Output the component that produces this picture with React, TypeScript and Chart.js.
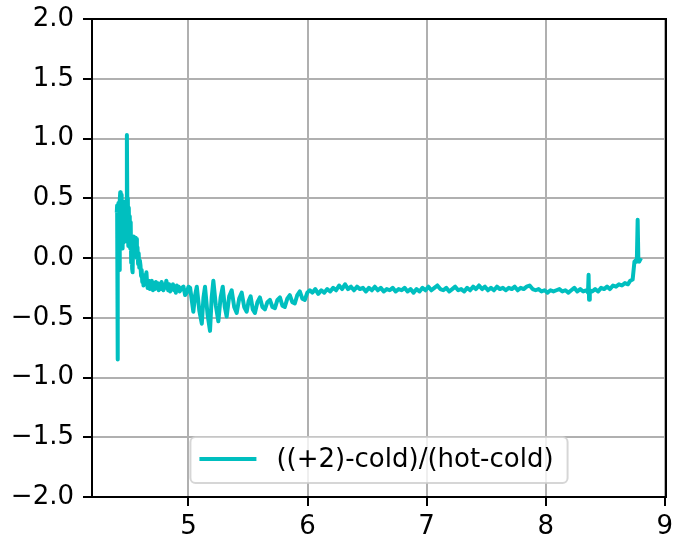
import React, { useEffect, useRef } from "react";
import { Chart, registerables } from "chart.js";

Chart.register(...registerables);

const SERIES_LABEL = "((+2)-cold)/(hot-cold)";
const LINE_COLOR = "#00bfbf";
const X_MIN = 4.19;
const X_MAX = 9.01;
const Y_MIN = -2;
const Y_MAX = 2;
const xTicks = [5, 6, 7, 8, 9];
const yTicks = [-2, -1.5, -1, -0.5, 0, 0.5, 1, 1.5, 2];

// spiky start
const xSpike = [4.398, 4.401, 4.404, 4.408, 4.412, 4.416, 4.42, 4.423, 4.427, 4.431, 4.435, 4.439, 4.443, 4.447, 4.451, 4.455, 4.459, 4.463, 4.467, 4.471, 4.475, 4.479, 4.483, 4.487, 4.491, 4.495, 4.499, 4.503, 4.507, 4.511, 4.515, 4.519, 4.523, 4.527, 4.531, 4.535, 4.539, 4.543, 4.547, 4.552, 4.557, 4.562, 4.567, 4.572, 4.577, 4.582, 4.587, 4.592, 4.597, 4.602, 4.607, 4.612, 4.617, 4.622, 4.627, 4.632, 4.637, 4.642, 4.647, 4.652, 4.657, 4.662, 4.667, 4.672, 4.677, 4.682, 4.687, 4.692, 4.697];
const ySpike = [0.38, 0.44, -0.85, 0.3, 0.46, 0.12, -0.1, 0.48, 0.55, 0.2, 0.53, 0.14, 0.42, 0.08, 0.36, 0.13, 0.47, 0.22, 0.4, 0.14, 0.34, 0.2, 1.03, 0.38, 0.5, 0.1, 0.42, 0.15, 0.35, 0.08, 0.3, -0.04, 0.14, -0.09, -0.12, 0.1, 0.18, 0.04, 0.16, 0.17, 0.04, 0.16, 0.0, 0.09, -0.05, 0.04, -0.08, -0.02, -0.06, -0.15, -0.1, -0.2, -0.14, -0.23, -0.17, -0.22, -0.15, -0.22, -0.12, -0.2, -0.25, -0.19, -0.24, -0.2, -0.26, -0.21, -0.25, -0.19, -0.24];

// settling
const xSettle = [4.702, 4.71, 4.718, 4.726, 4.734, 4.742, 4.75, 4.758, 4.766, 4.774, 4.782, 4.79, 4.798, 4.806, 4.814, 4.822, 4.83, 4.838, 4.846, 4.854, 4.862, 4.87, 4.878, 4.886, 4.894, 4.902, 4.91, 4.918, 4.926];
const ySettle = [-0.27, -0.21, -0.26, -0.2, -0.25, -0.21, -0.27, -0.22, -0.26, -0.2, -0.24, -0.27, -0.22, -0.25, -0.19, -0.23, -0.27, -0.22, -0.28, -0.23, -0.26, -0.22, -0.27, -0.24, -0.29, -0.23, -0.27, -0.24, -0.28];

// oscillations
const xWave = [4.944, 4.958, 4.972, 4.986, 5.0, 5.014, 5.041, 5.056, 5.07, 5.091, 5.112, 5.126, 5.139, 5.16, 5.181, 5.195, 5.209, 5.23, 5.251, 5.27, 5.288, 5.305, 5.321, 5.342, 5.363, 5.384, 5.405, 5.426, 5.447, 5.468, 5.489, 5.505, 5.522, 5.54, 5.558, 5.579, 5.6, 5.621, 5.642, 5.663, 5.684, 5.705, 5.726, 5.747, 5.768, 5.789, 5.809, 5.83, 5.851, 5.872, 5.893, 5.914, 5.935, 5.956, 5.977, 5.998, 6.019];
const yWave = [-0.25, -0.24, -0.31, -0.29, -0.24, -0.25, -0.45, -0.31, -0.24, -0.44, -0.55, -0.33, -0.24, -0.47, -0.61, -0.33, -0.19, -0.4, -0.53, -0.33, -0.24, -0.41, -0.49, -0.32, -0.27, -0.41, -0.46, -0.34, -0.29, -0.41, -0.45, -0.36, -0.32, -0.43, -0.46, -0.37, -0.33, -0.41, -0.43, -0.37, -0.35, -0.41, -0.42, -0.35, -0.33, -0.4, -0.41, -0.34, -0.31, -0.37, -0.38, -0.31, -0.28, -0.34, -0.35, -0.29, -0.27];

// flat part
const xFlat = [6.04, 6.065, 6.09, 6.115, 6.14, 6.165, 6.19, 6.215, 6.24, 6.265, 6.29, 6.315, 6.34, 6.365, 6.39, 6.415, 6.44, 6.465, 6.49, 6.515, 6.54, 6.565, 6.59, 6.615, 6.64, 6.665, 6.69, 6.715, 6.74, 6.765, 6.79, 6.815, 6.84, 6.865, 6.89, 6.915, 6.94, 6.965, 6.99, 7.015, 7.04, 7.065, 7.09, 7.115, 7.14, 7.165, 7.19, 7.215, 7.24, 7.265, 7.29, 7.315, 7.34, 7.365, 7.39, 7.415, 7.44, 7.465, 7.49, 7.515, 7.54, 7.565, 7.59, 7.615, 7.64, 7.665, 7.69, 7.715, 7.74, 7.765, 7.79, 7.815, 7.84, 7.865, 7.89, 7.915, 7.94, 7.965, 7.99, 8.015, 8.04, 8.065, 8.09, 8.115, 8.14, 8.165, 8.19, 8.215, 8.24, 8.265, 8.29, 8.315, 8.34, 8.355, 8.36, 8.364, 8.37, 8.39, 8.415, 8.44, 8.465, 8.49, 8.515, 8.54, 8.565, 8.59, 8.615, 8.64, 8.665, 8.69];
const yFlat = [-0.29, -0.26, -0.3, -0.27, -0.29, -0.26, -0.28, -0.25, -0.27, -0.23, -0.26, -0.22, -0.26, -0.24, -0.27, -0.24, -0.26, -0.25, -0.28, -0.25, -0.27, -0.24, -0.27, -0.25, -0.28, -0.26, -0.27, -0.25, -0.28, -0.26, -0.27, -0.25, -0.28, -0.26, -0.29, -0.26, -0.28, -0.25, -0.27, -0.24, -0.27, -0.25, -0.23, -0.26, -0.27, -0.25, -0.28, -0.26, -0.24, -0.27, -0.26, -0.28, -0.25, -0.27, -0.24, -0.26, -0.23, -0.26, -0.24, -0.27, -0.25, -0.27, -0.24, -0.26, -0.25, -0.27, -0.25, -0.26, -0.24, -0.27, -0.25, -0.26, -0.24, -0.23, -0.26, -0.27, -0.26, -0.28, -0.27, -0.29, -0.27, -0.28, -0.27, -0.26, -0.28, -0.27, -0.29, -0.27, -0.25, -0.28, -0.26, -0.28, -0.27, -0.29, -0.14, -0.35, -0.27, -0.28, -0.26, -0.28, -0.25, -0.26, -0.24, -0.26, -0.23, -0.24, -0.22, -0.23, -0.21, -0.22];

// end rise
const xTail = [8.71, 8.73, 8.745, 8.755, 8.765, 8.772, 8.778, 8.785, 8.8];
const yTail = [-0.19, -0.18, -0.03, -0.02, -0.03, 0.32, -0.02, -0.03, 0.0];

const FONT_FAMILY = "'DejaVu Sans', sans-serif";

function fmtY(v: number): string {
  return v.toFixed(1).replace("-", "\u2212");
}

export default function App() {
  const ref = useRef<HTMLCanvasElement | null>(null);

  useEffect(() => {
    if (!ref.current) return;
    const xs = [...xSpike, ...xSettle, ...xWave, ...xFlat, ...xTail];
    const ys = [...ySpike, ...ySettle, ...yWave, ...yFlat, ...yTail];
    const points = xs.map((x, i) => ({ x, y: ys[i] }));

    const overlay = {
      id: "overlay",
      afterDatasetsDraw(chart: any) {
        const { ctx, chartArea: a } = chart;
        ctx.save();
        // frame
        ctx.strokeStyle = "#000";
        ctx.lineWidth = 2;
        ctx.strokeRect(a.left, a.top, a.right - a.left, a.bottom - a.top);
        // legend
        ctx.font = `26px ${FONT_FAMILY}`;
        const tw = ctx.measureText(SERIES_LABEL).width;
        const w = 86 + tw + 14;
        const h = 46;
        const cx = (a.left + a.right) / 2;
        const left = cx - w / 2;
        const top = a.bottom - 14 - h;
        const r = 5;
        ctx.beginPath();
        ctx.moveTo(left + r, top);
        ctx.lineTo(left + w - r, top);
        ctx.arcTo(left + w, top, left + w, top + r, r);
        ctx.lineTo(left + w, top + h - r);
        ctx.arcTo(left + w, top + h, left + w - r, top + h, r);
        ctx.lineTo(left + r, top + h);
        ctx.arcTo(left, top + h, left, top + h - r, r);
        ctx.lineTo(left, top + r);
        ctx.arcTo(left, top, left + r, top, r);
        ctx.closePath();
        ctx.fillStyle = "rgba(255,255,255,0.8)";
        ctx.fill();
        ctx.strokeStyle = "rgba(204,204,204,0.8)";
        ctx.lineWidth = 2;
        ctx.stroke();
        // handle
        ctx.beginPath();
        ctx.moveTo(left + 9, top + 22);
        ctx.lineTo(left + 66, top + 22);
        ctx.strokeStyle = LINE_COLOR;
        ctx.lineWidth = 4;
        ctx.stroke();
        // text
        ctx.fillStyle = "#000";
        ctx.textBaseline = "middle";
        ctx.textAlign = "left";
        ctx.fillText(SERIES_LABEL, left + 86, top + 23);
        ctx.restore();
      },
    };

    const chart = new Chart(ref.current, {
      type: "line",
      data: {
        datasets: [
          {
            label: SERIES_LABEL,
            data: points,
            borderColor: LINE_COLOR,
            backgroundColor: LINE_COLOR,
            borderWidth: 4,
            pointRadius: 0,
            tension: 0,
            fill: false,
            borderJoinStyle: "round",
          } as any,
        ],
      },
      options: {
        animation: false,
        responsive: false,
        maintainAspectRatio: false,
        layout: { padding: { top: 19, right: 19, left: 0, bottom: 0 } },
        plugins: { legend: { display: false }, tooltip: { enabled: false } },
        scales: {
          x: {
            type: "linear",
            min: X_MIN,
            max: X_MAX,
            afterBuildTicks: (s: any) => {
              s.ticks = xTicks.map((v) => ({ value: v }));
            },
            afterFit: (s: any) => {
              s.height = 43;
              s.paddingLeft = 0;
              s.paddingRight = 0;
            },
            grid: { color: "#b0b0b0", lineWidth: 2, tickColor: "#000", tickWidth: 2, tickLength: 9 },
            border: { color: "#000", width: 2 },
            ticks: {
              font: { family: FONT_FAMILY, size: 26 },
              color: "#000",
              padding: 6,
              maxRotation: 0,
              autoSkip: false,
              callback: (v: any) => String(v),
            },
          },
          y: {
            type: "linear",
            min: Y_MIN,
            max: Y_MAX,
            afterBuildTicks: (s: any) => {
              s.ticks = yTicks.map((v) => ({ value: v }));
            },
            afterFit: (s: any) => {
              s.width = 92;
              s.paddingTop = 0;
              s.paddingBottom = 0;
            },
            grid: { color: "#b0b0b0", lineWidth: 2, tickColor: "#000", tickWidth: 2, tickLength: 9 },
            border: { color: "#000", width: 2 },
            ticks: {
              font: { family: FONT_FAMILY, size: 26 },
              color: "#000",
              padding: 9,
              autoSkip: false,
              callback: (v: any) => fmtY(Number(v)),
            },
          },
        },
      } as any,
      plugins: [overlay],
    });
    return () => chart.destroy();
  }, []);

  return (
    <div style={{ position: "fixed", left: 0, top: 0, width: 685, height: 540, background: "#fff" }}>
      <canvas ref={ref} width={685} height={540} style={{ display: "block" }} />
    </div>
  );
}
